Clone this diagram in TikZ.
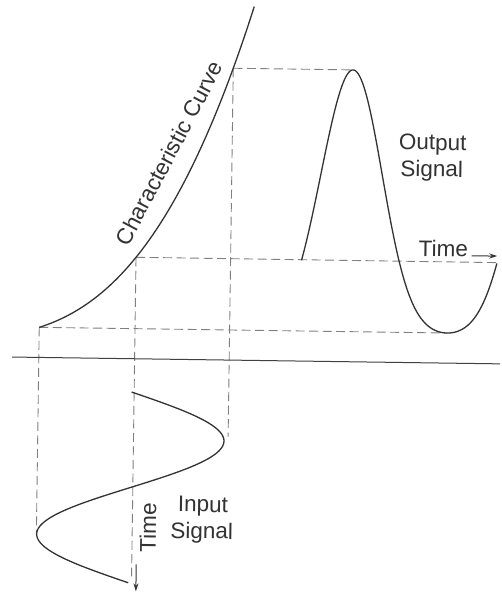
\documentclass[tikz,border=0pt]{standalone}
\usepackage{fontspec}
\setmainfont{Liberation Sans}
\usetikzlibrary{arrows.meta}
\begin{document}
\begin{tikzpicture}[x=1pt,y=-1pt,
  declare function={chv(\u)=\u*(0.334+0.31*(\u/100)+0.1244*(\u/100)*(\u/100));},
  curve/.style={draw=black!80, line width=1.3pt, line join=round},
  guide/.style={draw=black!50, line width=0.9pt, dash pattern=on 9pt off 4.5pt},
  axisline/.style={draw=black!75, line width=1pt},
  lbl/.style={font=\fontsize{22.5}{27}\selectfont, text=black!80, inner sep=0pt},
  tip/.style={-{Stealth[length=8pt,width=5pt]}, draw=black!80, line width=1pt}]
\useasboundingbox (0,0) rectangle (502,592);
\fill[white] (0,0) rectangle (502,592);
\begin{scope}[rotate around={-0.8:(251,296)}]
  % key points
  \coordinate (c0) at (39.7,330.3);
  \coordinate (cM) at (135.5,258.9);
  \coordinate (cT) at (230.1,68.5);
  \coordinate (oPeak) at (349.9,68.5);
  \coordinate (oLow) at (447.6,330.3);
  \coordinate (tEnd) at (499.5,259.2);
  \coordinate (iMin) at (39.7,537.9);
  \coordinate (rBot) at (230.1,437);
  \coordinate (mBot) at (135.5,578);
  \coordinate (hL) at (12.9,360.4);
  \coordinate (hR) at (501,360.4);
  \coordinate (aI1) at (140,566);
  \coordinate (aI2) at (140,593);
  \coordinate (aO1) at (471.1,252.9);
  \coordinate (aO2) at (496.7,252.6);

  % dashed projection lines
  \draw[guide] (c0) -- (oLow);
  \draw[guide] (cM) -- (tEnd);
  \draw[guide] (cT) -- (oPeak);
  \draw[guide] (c0) -- (iMin);
  \draw[guide] (cM) -- (mBot);
  \draw[guide] (cT) -- (rBot);

  % horizontal axis
  \draw[axisline] (hL) -- (hR);

  % characteristic curve
  \draw[curve] plot[domain=0:210.5, samples=90, variable=\s] ({39.7+\s},{330.3-chv(\s)});

  % input signal
  \draw[curve] plot[domain=0:1, samples=120, variable=\t] ({133+93*sin(360*\t)},{393.7+191*\t});

  % output signal
  \draw[curve] plot[domain=0:1, samples=160, variable=\t] ({301+195.5*\t},{330.3-chv(95.2+95.2*sin(360*\t))});

  % time arrows
  \draw[tip] (aI1) -- (aI2);
  \draw[tip] (aO1) -- (aO2);

  % labels
  \node[lbl, rotate=62.2] (cc) at (167,154.3) {Characteristic Curve};
  \node[lbl, anchor=base, rotate=-0.8] (o1) at (430.5,147.5) {Output};
  \node[lbl, anchor=base, rotate=-0.8] (o2) at (430,174.2) {Signal};
  \node[lbl, anchor=base, rotate=-0.8] (tO) at (442.7,253.8) {Time};
  \node[lbl, rotate=89.2] (tI) at (151.2,528.9) {Time};
  \node[lbl, anchor=base, rotate=-0.8] (i1) at (206,512.7) {Input};
  \node[lbl, anchor=base, rotate=-0.8] (i2) at (205.1,539.4) {Signal};
\end{scope}
\end{tikzpicture}
\end{document}
